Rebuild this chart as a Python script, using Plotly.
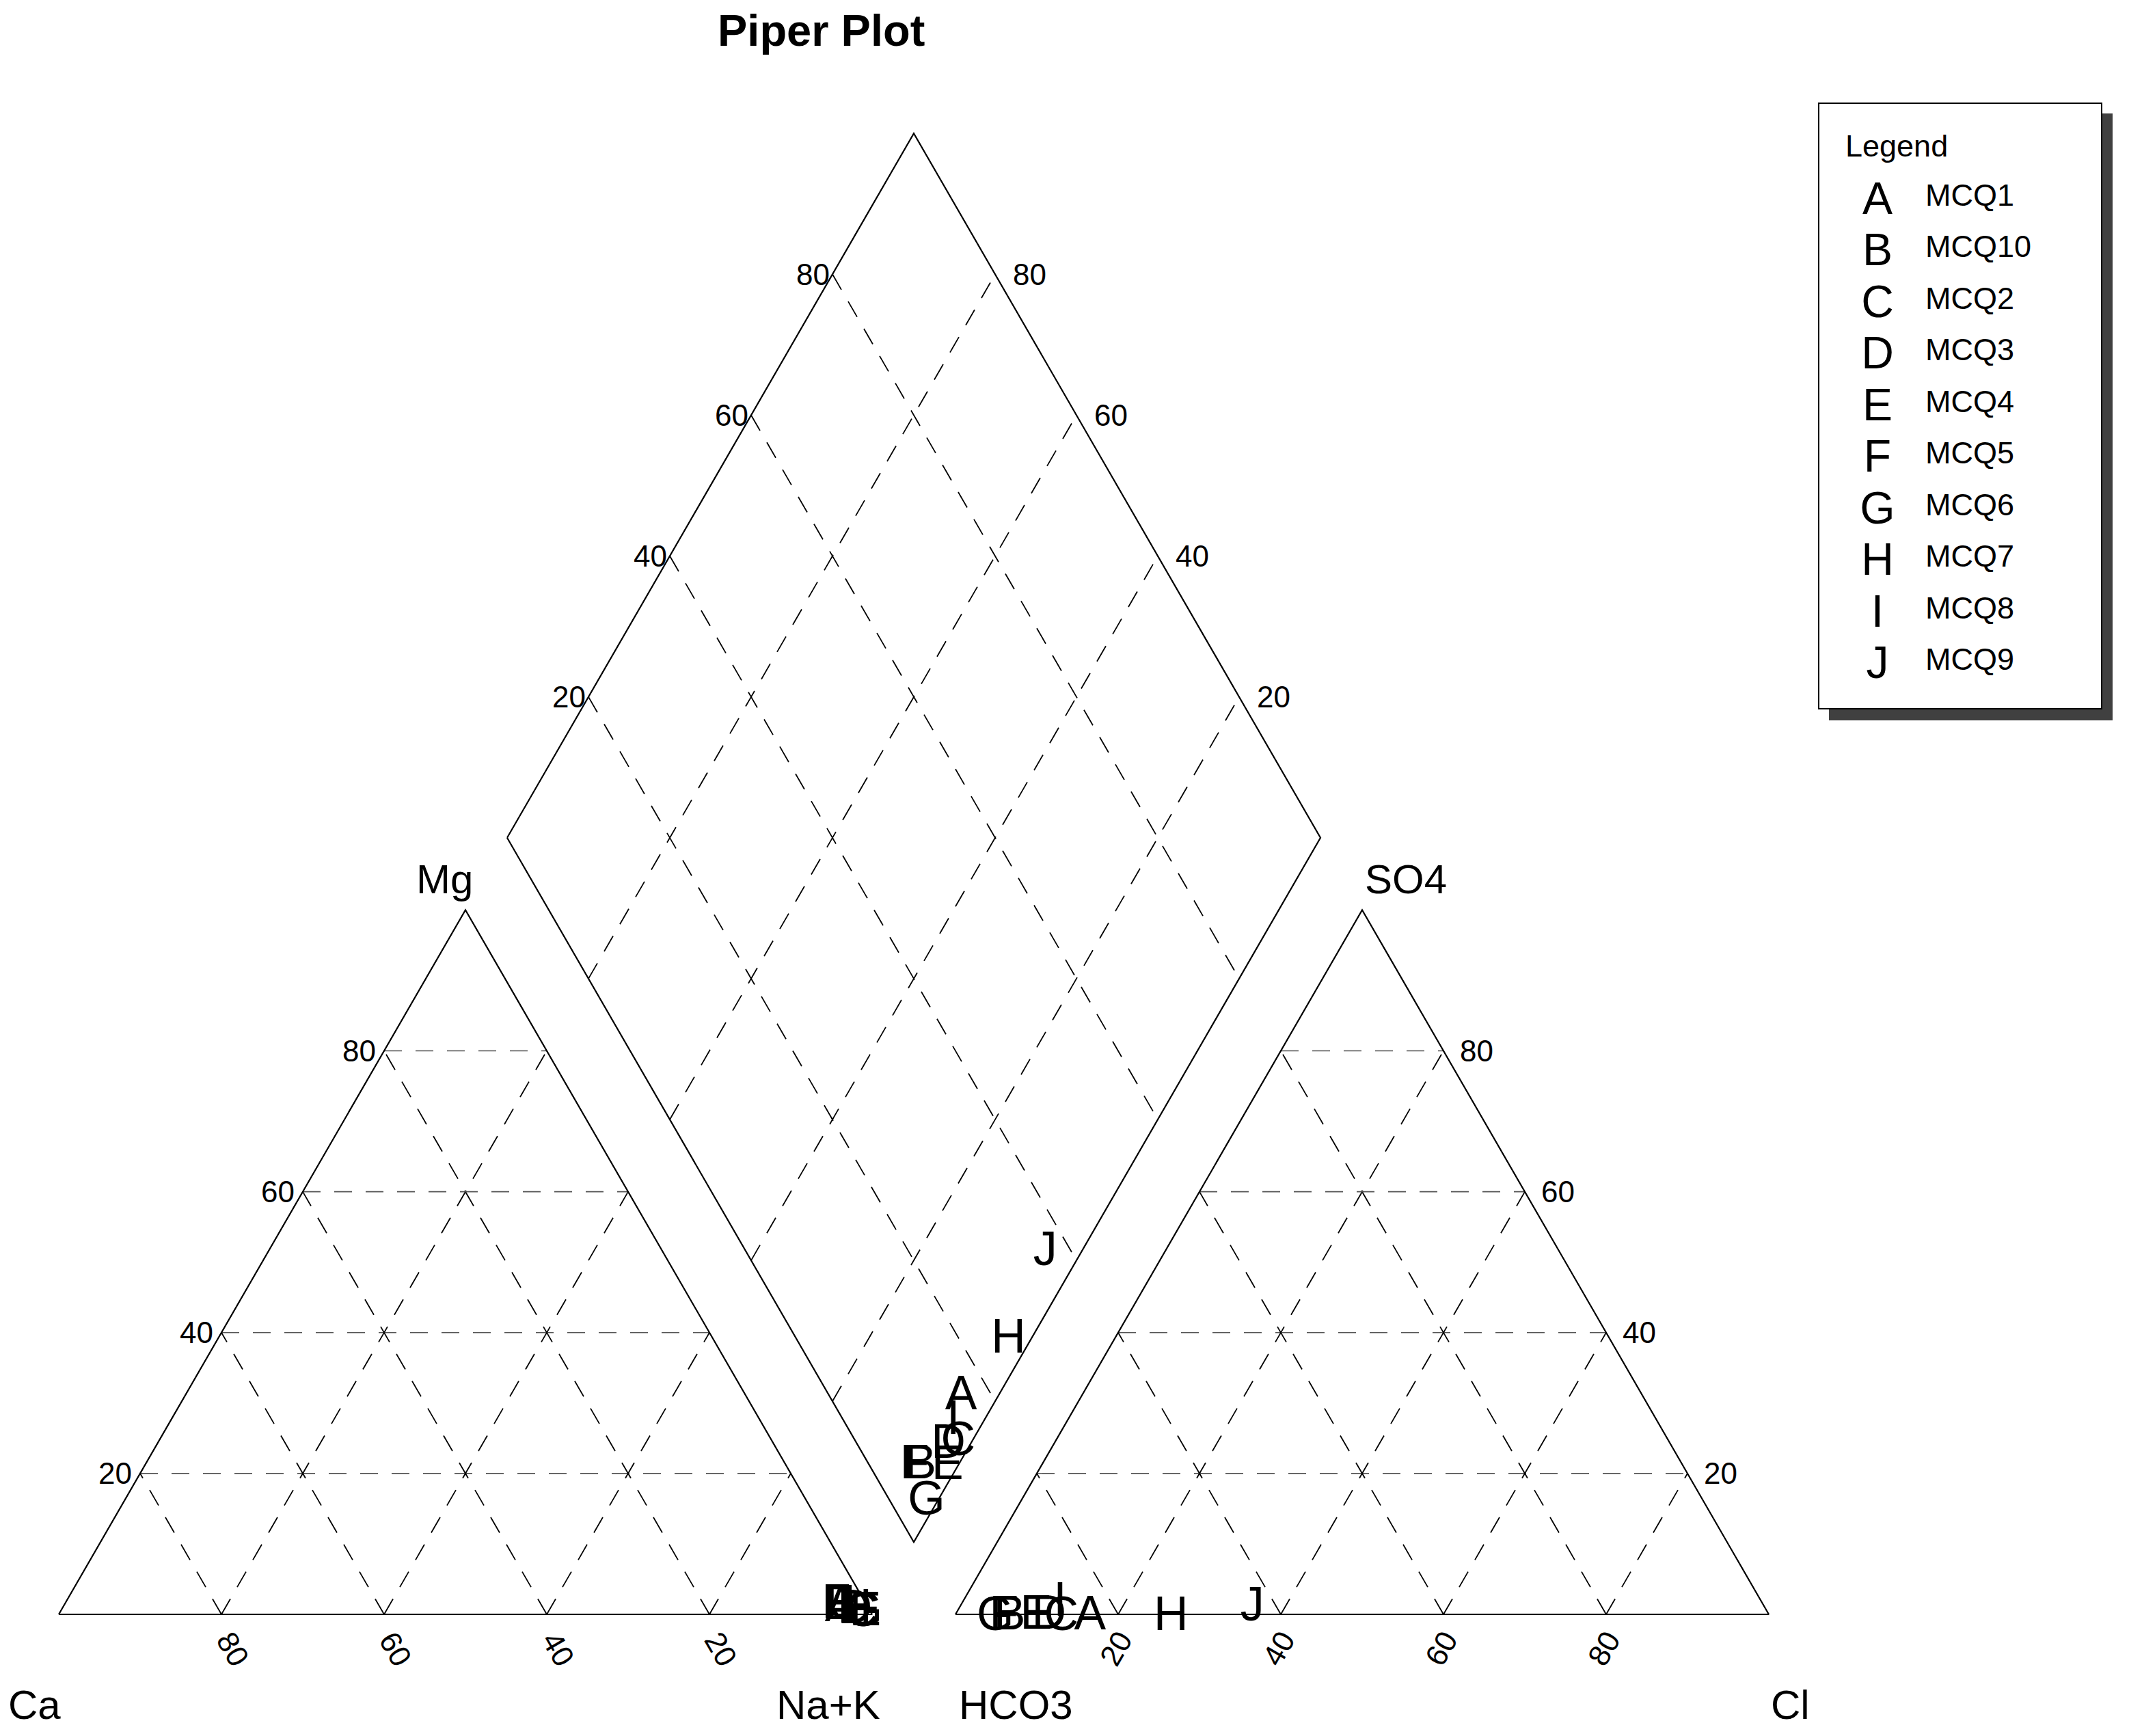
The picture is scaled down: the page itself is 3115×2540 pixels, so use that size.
import numpy as np
import plotly.graph_objects as go

# Samples (letter used as plot symbol, sample name)
letters = ["A", "B", "C", "D", "E", "F", "G", "H", "I", "J"]
samples = ["MCQ1", "MCQ10", "MCQ2", "MCQ3", "MCQ4", "MCQ5", "MCQ6", "MCQ7", "MCQ8", "MCQ9"]

# Cations, % meq/L
ca = [3.1, 2.9, 0.9, 1.5, 0.4, 3.4, 0.6, 1.5, 2.2, 2.6]
mg = [1.5, 1.8, 0.8, 1.2, 0.9, 2.0, 0.8, 1.3, 1.6, 1.9]
na_k = [95.4, 95.3, 98.3, 97.3, 98.7, 94.6, 98.6, 97.2, 96.2, 95.5]

# Anions, % meq/L
hco3 = [83.3, 93.2, 86.9, 88.3, 89.9, 93.9, 95.0, 73.4, 86.0, 62.7]
so4 = [0.3, 0.3, 0.2, 0.4, 0.4, 0.3, 0.2, 0.2, 2.3, 1.6]
cl = [16.4, 6.5, 12.9, 11.3, 9.7, 5.8, 4.8, 26.4, 11.7, 35.7]

ticks = [20, 40, 60, 80]

# geometry, in page pixels
W, H = 3115, 2540
PAGE_OFF = 8  # body margin of the html page
SIDE = 1190
BASE = 2362
CAT_X0 = 86
AN_X0 = 1398
TRI_H = SIDE * np.sqrt(3) / 2
TEXT_DY = 8  # plotly sits "middle center" text a little high
FONT = "Liberation Sans, Arial, sans-serif"


def cat_xy(c, m, n):
    tot = np.asarray(c) + np.asarray(m) + np.asarray(n)
    m = np.asarray(m) / tot * 100
    n = np.asarray(n) / tot * 100
    return CAT_X0 + SIDE * (n + m / 2) / 100, BASE - TRI_H * m / 100


def an_xy(h, s, c):
    tot = np.asarray(h) + np.asarray(s) + np.asarray(c)
    s = np.asarray(s) / tot * 100
    c = np.asarray(c) / tot * 100
    return AN_X0 + SIDE * (c + s / 2) / 100, BASE - TRI_H * s / 100


def dia_xy(n, a):
    xc = CAT_X0 + SIDE * np.asarray(n) / 100
    xa = AN_X0 + SIDE * np.asarray(a) / 100
    return (xc + xa) / 2, BASE - (xa - xc) / 2 * np.sqrt(3)


fig = go.Figure()


def line(xs, ys, dash=None, color="black", width=2):
    fig.add_trace(go.Scatter(x=list(xs), y=list(ys), mode="lines", hoverinfo="skip",
                             line=dict(color=color, width=width, dash=dash), showlegend=False))


DASH = "26px,20px"
GRID = "#000000"
HGRID = "#555555"

# cation triangle grid
for v in ticks:
    x, y = cat_xy([100 - v, 0], [v, v], [0, 100 - v])
    line(x, y, DASH, HGRID, 1.6)
    x, y = cat_xy([v, v], [0, 100 - v], [100 - v, 0])
    line(x, y, DASH, GRID, 1.8)
    x, y = cat_xy([100 - v, 0], [0, 100 - v], [v, v])
    line(x, y, DASH, GRID, 1.8)

# anion triangle grid
for v in ticks:
    x, y = an_xy([100 - v, 0], [v, v], [0, 100 - v])
    line(x, y, DASH, HGRID, 1.6)
    x, y = an_xy([v, v], [0, 100 - v], [100 - v, 0])
    line(x, y, DASH, GRID, 1.8)
    x, y = an_xy([100 - v, 0], [0, 100 - v], [v, v])
    line(x, y, DASH, GRID, 1.8)

# diamond grid
for v in ticks:
    x, y = dia_xy([v, v], [0, 100])
    line(x, y, DASH, GRID, 1.8)
    x, y = dia_xy([0, 100], [v, v])
    line(x, y, DASH, GRID, 1.8)

# outlines
x, y = cat_xy([100, 0, 0, 100], [0, 100, 0, 0], [0, 0, 100, 0])
line(x, y, width=2.2)
x, y = an_xy([100, 0, 0, 100], [0, 100, 0, 0], [0, 0, 100, 0])
line(x, y, width=2.2)
x, y = dia_xy([0, 0, 100, 100, 0], [0, 100, 100, 0, 0])
line(x, y, width=2.2)

# sample letters
letter_font = dict(family=FONT, size=70, color="black")
x, y = cat_xy(ca, mg, na_k)
fig.add_trace(go.Scatter(x=x, y=y + TEXT_DY, mode="text", text=letters, textposition="middle center",
                         textfont=letter_font, showlegend=False))
x, y = an_xy(hco3, so4, cl)
fig.add_trace(go.Scatter(x=x, y=y + TEXT_DY, mode="text", text=letters, textposition="middle center",
                         textfont=letter_font, showlegend=False))
x, y = dia_xy(na_k, np.array(so4) + np.array(cl))
fig.add_trace(go.Scatter(x=x - 3, y=y + TEXT_DY, mode="text", text=letters, textposition="middle center",
                         textfont=letter_font, showlegend=False))

ann = []


def label(x, y, text, size=44, xanchor="center", angle=0, bold=False):
    ann.append(dict(x=x, y=y, text=f"<b>{text}</b>" if bold else text, showarrow=False,
                    xanchor=xanchor, yanchor="middle", textangle=angle,
                    font=dict(family=FONT, size=size, color="black")))


# tick labels
for v in ticks:
    x, y = cat_xy(v, 0, 100 - v)
    label(float(x) + 17, float(y) + 50, str(v), angle=60)
    x, y = cat_xy(100 - v, v, 0)
    label(float(x) - 10, float(y), str(v), xanchor="right")
    x, y = an_xy(100 - v, 0, v)
    label(float(x) - 4, float(y) + 50, str(v), angle=-60)
    x, y = an_xy(0, v, 100 - v)
    label(float(x) + 22, float(y), str(v), xanchor="left")
    x, y = dia_xy(0, v)
    label(float(x) - 2, float(y), str(v), xanchor="right")
    x, y = dia_xy(100 - v, 100)
    label(float(x) + 24, float(y), str(v), xanchor="left")

# corner labels
label(50, 2494, "Ca", 60)
label(1212, 2494, "Na+K", 60)
label(1486, 2494, "HCO3", 60)
label(2619, 2494, "Cl", 60)
label(650, 1286, "Mg", 60)
label(2057, 1286, "SO4", 60)
label(1201, 44, "Piper Plot", 65, bold=True)

# legend box with drop shadow
shapes = [
    dict(type="rect", xref="x", yref="y", x0=2676, y0=166, x1=3091, y1=1054, layer="below",
         fillcolor="#404040", line=dict(width=0)),
    dict(type="rect", xref="x", yref="y", x0=2661, y0=151, x1=3075, y1=1037, layer="below",
         fillcolor="white", line=dict(color="black", width=2)),
]
label(2698, 213, "Legend", 45, xanchor="left")
row_y = [292 + i * 75.5 for i in range(len(letters))]
fig.add_trace(go.Scatter(x=[2747] * len(letters), y=[r + 4 for r in row_y], mode="text", text=letters,
                         textposition="middle center", textfont=dict(family=FONT, size=66, color="black"),
                         showlegend=False))
for yy, name in zip(row_y, samples):
    label(2815, yy - 7, name, 45, xanchor="left")

fig.update_layout(
    width=W, height=H,
    margin=dict(l=0, r=0, t=0, b=0),
    paper_bgcolor="white", plot_bgcolor="rgba(0,0,0,0)",
    xaxis=dict(range=[PAGE_OFF, W + PAGE_OFF], visible=False, fixedrange=True),
    yaxis=dict(range=[H + PAGE_OFF, PAGE_OFF], visible=False, fixedrange=True),
    annotations=ann, shapes=shapes,
    showlegend=False,
)

fig.write_html("out.html")
